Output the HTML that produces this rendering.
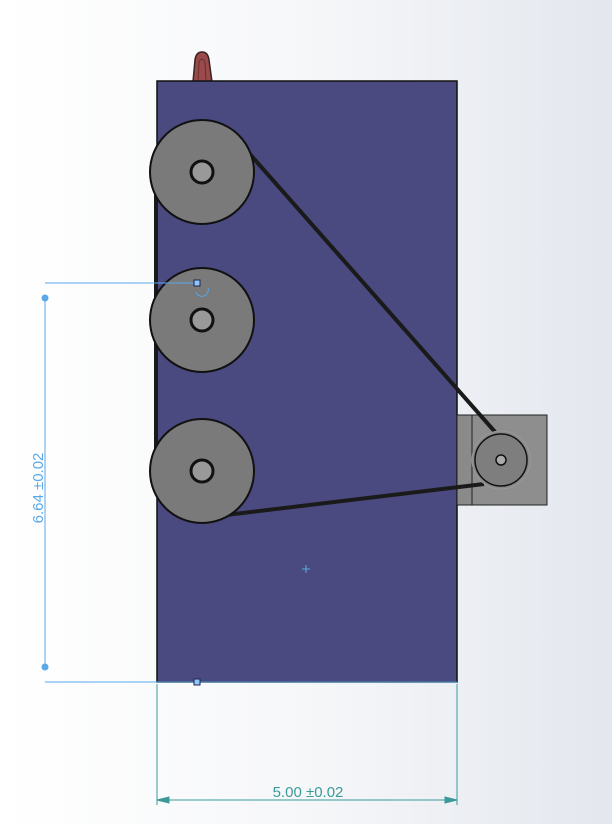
<!DOCTYPE html>
<html><head><meta charset="utf-8"><style>
html,body{margin:0;padding:0;width:612px;height:824px;overflow:hidden}
body{background:linear-gradient(90deg,#ffffff 0%,#f6f7f9 50%,#e3e7ee 100%)}
svg{display:block}
</style></head><body>
<svg width="612" height="824" viewBox="0 0 612 824">
<g>
<path d="M193,82 L195,60 Q196,52 202,52 Q208,52 209,60 L212,82 Z" fill="#9a4a4a" stroke="#3a2222" stroke-width="1.5"/>
<path d="M198,80 L199,62 Q202,56 205,62 L206,80" fill="none" stroke="#6a2e2e" stroke-width="1"/>
</g>
<rect x="157" y="81" width="300" height="601" fill="#4a4a80" stroke="#111" stroke-width="1.5"/>
<g>
<rect x="457" y="415" width="15" height="90" fill="#8a8a8a" stroke="#222" stroke-width="1"/>
<rect x="472" y="415" width="75" height="90" fill="#8e8e8e" stroke="#222" stroke-width="1"/>
</g>
<g stroke="#1a1a1a" stroke-width="4" fill="none">
<line x1="156" y1="168" x2="156" y2="472"/>
<line x1="248" y1="152" x2="496" y2="433"/>
<line x1="226" y1="515" x2="484" y2="484"/>
</g>
<g>
<circle cx="202" cy="172" r="52" fill="#7a7a7a" stroke="#111" stroke-width="2"/>
<circle cx="202" cy="172" r="11" fill="#999" stroke="#111" stroke-width="3"/>
</g>
<g>
<circle cx="202" cy="320" r="52" fill="#7a7a7a" stroke="#111" stroke-width="2"/>
<circle cx="202" cy="320" r="11" fill="#999" stroke="#111" stroke-width="3"/>
</g>
<g>
<circle cx="202" cy="471" r="52" fill="#7a7a7a" stroke="#111" stroke-width="2"/>
<circle cx="202" cy="471" r="11" fill="#999" stroke="#111" stroke-width="3"/>
</g>
<g>
<circle cx="501" cy="460" r="29" fill="#888" stroke="#999" stroke-width="1"/>
<circle cx="501" cy="460" r="26" fill="#7e7e7e" stroke="#111" stroke-width="1.5"/>
<circle cx="501" cy="460" r="5" fill="#aaa" stroke="#111" stroke-width="1.5"/>
</g>
<g stroke="#5aa8e8" stroke-width="1" fill="none">
<line x1="45" y1="283" x2="197" y2="283"/>
<line x1="45" y1="682" x2="457" y2="682"/>
<line x1="45" y1="298" x2="45" y2="667"/>
<circle cx="45" cy="298" r="3" fill="#5aa8e8"/>
<circle cx="45" cy="667" r="3" fill="#5aa8e8"/>
<rect x="194" y="280" width="6" height="6" fill="#8cc8ff" stroke="#224"/>
<rect x="194" y="679" width="6" height="6" fill="#8cc8ff" stroke="#224"/>
<path d="M196,292 A6,6 0 0 0 208,288"/>
<line x1="302" y1="569" x2="310" y2="569"/><line x1="306" y1="565" x2="306" y2="573"/>
</g>
<text x="0" y="0" transform="translate(43,488) rotate(-90)" text-anchor="middle" font-family="Liberation Sans, sans-serif" font-size="15" fill="#5aa8e8">6.64 ±0.02</text>
<g stroke="#3a9a9a" stroke-width="1" fill="#3a9a9a">
<line x1="157" y1="684" x2="157" y2="805"/>
<line x1="457" y1="684" x2="457" y2="805"/>
<line x1="157" y1="800" x2="457" y2="800"/>
<path d="M157,800 l12,-3 v6 Z"/><path d="M457,800 l-12,-3 v6 Z"/>
</g>
<text x="308" y="797" text-anchor="middle" font-family="Liberation Sans, sans-serif" font-size="15" fill="#3a9a9a">5.00 ±0.02</text>
</svg>
</body></html>
